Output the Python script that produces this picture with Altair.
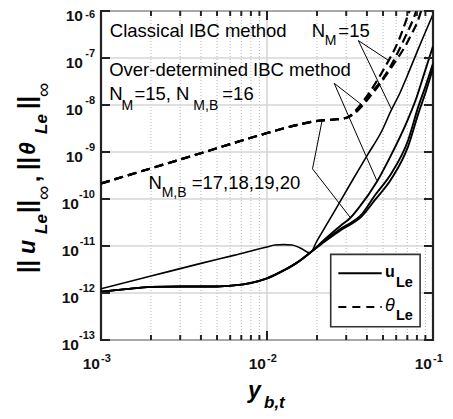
import altair as alt
import pandas as pd

FONT = "Liberation Sans"
W, H = 332, 329

# ---------------- data ----------------
# ||u_Le|| classical IBC (N_M=15)
u_cls_x = [1e-3, 2.0e-3, 4.0e-3, 6.31e-3, 1.0e-2, 1.117e-2, 1.259e-2, 1.413e-2, 1.585e-2, 1.816e-2,
           2.0e-2, 2.512e-2, 3.2e-2, 4.0e-2, 5.0e-2, 5.5e-2, 6.31e-2, 7.3e-2, 8.51e-2, 1e-1]
u_cls_y = [1.23e-12, 2.29e-12, 4.27e-12, 6.31e-12, 9.55e-12, 1.05e-11, 1.07e-11, 1.05e-11, 9.1e-12, 7.16e-12,
           1.29e-11, 5.0e-11, 2.19e-10, 8.3e-10, 3.16e-9, 6.76e-9, 1.78e-8, 6.0e-8, 2.24e-7, 8.5e-7]

# ||u_Le|| over-determined IBC: shared low part
u_od_head_x = [1e-3, 1.41e-3, 2e-3, 3.16e-3, 5e-3, 6.31e-3, 7.94e-3, 1e-2, 1.26e-2, 1.51e-2, 1.816e-2]
u_od_head_y = [1.07e-12, 1.21e-12, 1.35e-12, 1.38e-12, 1.38e-12, 1.45e-12, 1.62e-12, 2.04e-12, 3.02e-12,
               4.37e-12, 7.16e-12]
u_odA_x = [2.24e-2, 2.82e-2, 3.16e-2, 3.55e-2, 4.58e-2, 5.62e-2, 6.78e-2, 7.94e-2, 8.91e-2, 1e-1]
u_odA_y = [1.41e-11, 2.82e-11, 3.89e-11, 6.31e-11, 2.29e-10, 8.91e-10, 3.55e-9, 1.41e-8, 5.01e-8, 1.78e-7]
u_odB_x = [2.24e-2, 2.82e-2, 3.72e-2, 4.47e-2, 5.62e-2, 7.08e-2, 8.13e-2, 9.12e-2, 1e-1]
u_odB_y = [1.32e-11, 2.40e-11, 4.68e-11, 1.20e-10, 3.55e-10, 1.78e-9, 8.91e-9, 2.82e-8, 7.59e-8]
u_odC_x = [2.24e-2, 2.82e-2, 3.72e-2, 4.47e-2, 5.62e-2, 7.08e-2, 8.13e-2, 9.12e-2, 1e-1]
u_odC_y = [1.26e-11, 2.24e-11, 4.27e-11, 9.55e-11, 2.69e-10, 1.32e-9, 6.31e-9, 2.09e-8, 6.03e-8]

# ||theta_Le||: shared low part and three upper branches
th_head_x = [1e-3, 4.13e-3, 9.08e-3, 1.585e-2, 2.09e-2, 2.51e-2, 3.02e-2]
th_head_y = [2.14e-10, 9.77e-10, 2.29e-9, 3.89e-9, 4.68e-9, 4.90e-9, 5.37e-9]
th1_x = [3.39e-2, 3.98e-2, 5.01e-2, 6.32e-2, 7.10e-2, 7.4e-2]
th1_y = [7.41e-9, 1.51e-8, 5.5e-8, 2.75e-7, 8.51e-7, 1.26e-6]
th2_x = [3.39e-2, 3.98e-2, 5.38e-2, 6.78e-2, 7.80e-2, 8.1e-2]
th2_y = [6.92e-9, 1.38e-8, 5.5e-8, 2.75e-7, 8.51e-7, 1.26e-6]
th3_x = [3.39e-2, 4.17e-2, 5.62e-2, 7.26e-2, 8.36e-2, 8.7e-2]
th3_y = [6.76e-9, 1.51e-8, 6.31e-8, 2.75e-7, 8.51e-7, 1.41e-6]

# axes
y_ticks = [1e-13, 1e-12, 1e-11, 1e-10, 1e-9, 1e-8, 1e-7, 1e-6]
y_tick_exp = ["-13", "-12", "-11", "-10", "-9", "-8", "-7", "-6"]
x_major = [1e-3, 1e-2, 1e-1]
x_major_exp = ["-3", "-2", "-1"]
x_minor = [2e-3, 3e-3, 4e-3, 5e-3, 6e-3, 7e-3, 8e-3, 9e-3,
           2e-2, 3e-2, 4e-2, 5e-2, 6e-2, 7e-2, 8e-2, 9e-2]

# annotations (data coordinates)
ann_main_t = ["Classical IBC method", "N", "=15", "Over-determined IBC method", "N", "=15, N", "=16",
              "N", "=17,18,19,20"]
ann_main_x = [1.13e-3, 1.86e-2, 2.69e-2, 1.12e-3, 1.12e-3, 1.59e-3, 5.38e-3, 1.93e-3, 3.52e-3]
ann_main_y = [2.86e-7, 2.86e-7, 2.86e-7, 4.12e-8, 1.26e-8, 1.26e-8, 1.26e-8, 1.66e-10, 1.66e-10]
ann_sub_t = ["M", "M", "M,B", "M,B"]
ann_sub_x = [2.23e-2, 1.33e-3, 3.6e-3, 2.32e-3]
ann_sub_y = [1.85e-7, 7.74e-9, 7.74e-9, 1.11e-10]

# pointer lines: start -> end
ptr_x0 = [3.55e-2, 3.55e-2, 2.54e-2, 2.54e-2, 1.88e-2, 1.88e-2]
ptr_y0 = [2.35e-7, 2.35e-7, 2.90e-8, 2.90e-8, 4.38e-10, 4.38e-10]
ptr_x1 = [5.38e-2, 5.64e-2, 3.72e-2, 4.58e-2, 2.14e-2, 3.16e-2]
ptr_y1 = [8.95e-8, 7.96e-9, 1.01e-8, 2.49e-10, 4.40e-9, 4.13e-11]

# legend box
leg_box = dict(x=[2.42e-2], x2=[8.36e-2], y=[6.62e-12], y2=[1.91e-13])
leg_line_x = [2.69e-2, 4.91e-2]
leg_line_y = [2.64e-12, 5.01e-13]

# ---------------- build tables ----------------
def series(name, xs, ys):
    return pd.DataFrame({"x": xs, "y": ys, "s": name})

solid_cls = series("cls", u_cls_x, u_cls_y)
solid_od = pd.concat([
    series("A", u_od_head_x + u_odA_x, u_od_head_y + u_odA_y),
    series("B", u_od_head_x + u_odB_x, u_od_head_y + u_odB_y),
    series("C", u_od_head_x + u_odC_x, u_od_head_y + u_odC_y),
])
dashed = pd.concat([
    series("t1", th_head_x + th1_x, th_head_y + th1_y),
    series("t2", th_head_x + th2_x, th_head_y + th2_y),
    series("t3", th_head_x + th3_x, th_head_y + th3_y),
])

xs = alt.Scale(type="log", domain=[1e-3, 1e-1], nice=False)
ys = alt.Scale(type="log", domain=[1e-13, 1e-6], nice=False)
X = lambda f: alt.X(f, type="quantitative", scale=xs, axis=None)
Y = lambda f: alt.Y(f, type="quantitative", scale=ys, axis=None)

layers = []
# grid
layers.append(alt.Chart(pd.DataFrame({"v": x_minor})).mark_rule(
    color="#b5b5b5", strokeWidth=1, strokeDash=[1, 2]).encode(x=X("v")))
layers.append(alt.Chart(pd.DataFrame({"v": y_ticks})).mark_rule(
    color="#d6d6d6", strokeWidth=1.6).encode(y=Y("v")))
layers.append(alt.Chart(pd.DataFrame({"v": [x_major[1]]})).mark_rule(
    color="#d6d6d6", strokeWidth=1.6).encode(x=X("v")))

# curves
layers.append(alt.Chart(dashed).mark_line(
    color="black", strokeWidth=2.2, strokeDash=[9, 5], interpolate="monotone", clip=True
).encode(x=X("x"), y=Y("y"), detail="s:N"))
layers.append(alt.Chart(solid_od).mark_line(
    color="black", strokeWidth=1.9, interpolate="monotone", clip=True
).encode(x=X("x"), y=Y("y"), detail="s:N"))
layers.append(alt.Chart(solid_cls).mark_line(
    color="black", strokeWidth=1.6, interpolate="monotone", clip=True
).encode(x=X("x"), y=Y("y")))

# pointer lines
ptr = pd.DataFrame({"x0": ptr_x0, "y0": ptr_y0, "x1": ptr_x1, "y1": ptr_y1})
layers.append(alt.Chart(ptr).mark_rule(color="black", strokeWidth=1).encode(
    x=X("x0"), y=Y("y0"), x2="x1:Q", y2="y1:Q"))

# annotations
def dtext(df, size, **kw):
    return alt.Chart(df).mark_text(align="left", baseline="alphabetic", font=FONT,
                                   fontSize=size, color="black", **kw).encode(
        x=X("x"), y=Y("y"), text="t:N")

layers.append(dtext(pd.DataFrame({"t": ann_main_t, "x": ann_main_x, "y": ann_main_y}), 18.5))
layers.append(dtext(pd.DataFrame({"t": ann_sub_t, "x": ann_sub_x, "y": ann_sub_y}), 14))

# legend
layers.append(alt.Chart(pd.DataFrame(leg_box)).mark_rect(
    fill="white", stroke="#333333", strokeWidth=1.6).encode(
    x=X("x"), x2="x2:Q", y=Y("y"), y2="y2:Q"))
layers.append(alt.Chart(pd.DataFrame({"x": leg_line_x, "y": [leg_line_y[0]] * 2})).mark_line(
    color="black", strokeWidth=2).encode(x=X("x"), y=Y("y")))
layers.append(alt.Chart(pd.DataFrame({"x": leg_line_x, "y": [leg_line_y[1]] * 2})).mark_line(
    color="black", strokeWidth=2, strokeDash=[8, 6]).encode(x=X("x"), y=Y("y")))
layers.append(dtext(pd.DataFrame({"t": ["u"], "x": [5.14e-2], "y": [2.14e-12]}), 16, fontWeight="bold"))
layers.append(dtext(pd.DataFrame({"t": ["Le", "Le"], "x": [5.98e-2, 5.98e-2],
                                  "y": [1.32e-12, 2.63e-13]}), 14.5, fontWeight="bold"))
layers.append(dtext(pd.DataFrame({"t": ["θ"], "x": [5.14e-2], "y": [4.06e-13]}), 18,
                    fontStyle="italic"))

# ticks (inward, MATLAB style)
yt = pd.DataFrame({"v": y_ticks})
xM = pd.DataFrame({"v": x_major})
xm = pd.DataFrame({"v": x_minor})
TK = dict(color="#222222", strokeWidth=2)
layers.append(alt.Chart(yt).mark_rule(**TK).encode(y=Y("v"), x=alt.value(0), x2=alt.value(9)))
layers.append(alt.Chart(yt).mark_rule(**TK).encode(y=Y("v"), x=alt.value(W - 9), x2=alt.value(W)))
layers.append(alt.Chart(xM).mark_rule(**TK).encode(x=X("v"), y=alt.value(H - 9), y2=alt.value(H)))
layers.append(alt.Chart(xM).mark_rule(**TK).encode(x=X("v"), y=alt.value(0), y2=alt.value(9)))
layers.append(alt.Chart(xm).mark_rule(**TK).encode(x=X("v"), y=alt.value(H - 5), y2=alt.value(H)))
layers.append(alt.Chart(xm).mark_rule(**TK).encode(x=X("v"), y=alt.value(0), y2=alt.value(5)))

# tick labels
ylab = pd.DataFrame({"v": y_ticks, "sup": y_tick_exp})
LB = dict(font=FONT, fontWeight="bold", color="#111111", baseline="alphabetic")
layers.append(alt.Chart(ylab).transform_filter("datum.v > 5e-10").mark_text(
    align="right", fontSize=15.5, dy=10, **LB).encode(y=Y("v"), x=alt.value(-18), text=alt.value("10")))
layers.append(alt.Chart(ylab).transform_filter("datum.v < 5e-10").mark_text(
    align="right", fontSize=15.5, dy=10, **LB).encode(y=Y("v"), x=alt.value(-22), text=alt.value("10")))
layers.append(alt.Chart(ylab).transform_filter("datum.v < 5e-7").mark_text(
    align="right", fontSize=11, dy=-1, **LB).encode(y=Y("v"), x=alt.value(-6), text="sup:N"))
layers.append(alt.Chart(ylab).transform_filter("datum.v > 5e-7").mark_text(
    align="right", fontSize=11, dy=7, **LB).encode(y=Y("v"), x=alt.value(-6), text="sup:N"))
xlab = pd.DataFrame({"v": x_major, "sup": x_major_exp})
layers.append(alt.Chart(xlab).mark_text(align="right", fontSize=15.5, dx=-1, **LB).encode(
    x=X("v"), y=alt.value(H + 29), text=alt.value("10")))
layers.append(alt.Chart(xlab).mark_text(align="left", fontSize=11, dx=0, **LB).encode(
    x=X("v"), y=alt.value(H + 22), text="sup:N"))

# axis titles (rich text pieces)
def ptext(t, x, y, size, angle=0, weight="bold", style="normal"):
    kw = dict(align="left", baseline="alphabetic", font=FONT, fontSize=size, color="black",
              fontWeight=weight, fontStyle=style)
    if angle:
        kw["angle"] = angle
    return alt.Chart(pd.DataFrame({"t": [t]})).mark_text(**kw).encode(
        x=alt.value(x), y=alt.value(y), text="t:N")

layers.append(ptext("y", 147, H + 58, 23, style="italic"))
layers.append(ptext("b,t", 163, H + 68, 17, style="italic"))

MB, SB, IB = -66, -54, -51
OFF = -3  # page-to-plot vertical offset
ytitle = [
    ("||", MB, 265, 23, "bold", "normal"),
    ("u", MB, 246, 23, "bold", "italic"),
    ("Le", SB, 226, 17, "bold", "italic"),
    ("||", MB, 205, 23, "bold", "normal"),
    ("∞", IB, 192, 20, "normal", "normal"),
    (",", -61, 174, 23, "bold", "normal"),
    ("||", MB, 162, 23, "bold", "normal"),
    ("θ", MB, 147, 23, "bold", "italic"),
    ("Le", SB, 126, 17, "bold", "italic"),
    ("||", MB, 101, 23, "bold", "normal"),
    ("∞", IB, 89, 20, "normal", "normal"),
]
for t, x, y, s, w, st in ytitle:
    layers.append(ptext(t, x, y + OFF, s, angle=270, weight=w, style=st))

chart = alt.layer(*layers).properties(
    width=W, height=H,
    autosize=alt.AutoSizeParams(type="none"),
    padding={"left": 93, "top": 3, "right": 12, "bottom": 75},
).configure_view(stroke="#222222", strokeWidth=2.2)

chart.save("out.html", embed_options={"renderer": "svg", "actions": False})
